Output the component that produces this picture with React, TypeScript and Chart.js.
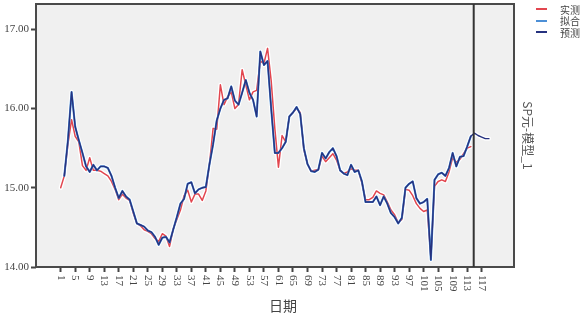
import React, { useEffect, useRef } from 'react';
import { Chart, registerables } from 'chart.js';

Chart.register(...registerables);

// 实测 (actual), days 1..114
const actual: number[] = [
  15.00, 15.15, 15.55, 15.86, 15.65, 15.58, 15.28, 15.22, 15.38, 15.22,
  15.22, 15.21, 15.18, 15.15, 15.08, 14.98, 14.85, 14.92, 14.87, 14.84,
  14.68, 14.55, 14.52, 14.47, 14.45, 14.42, 14.36, 14.32, 14.42, 14.39,
  14.26, 14.48, 14.60, 14.72, 14.90, 14.97, 14.82, 14.92, 14.92, 14.84,
  14.96, 15.30, 15.75, 15.74, 16.30, 16.05, 16.15, 16.21, 16.00, 16.05,
  16.49, 16.30, 16.11, 16.21, 16.23, 16.60, 16.57, 16.76, 16.35, 15.75,
  15.26, 15.66, 15.58, 15.90, 15.95, 16.00, 15.95, 15.48, 15.30, 15.21,
  15.22, 15.23, 15.40, 15.33, 15.38, 15.43, 15.35, 15.22, 15.18, 15.20,
  15.24, 15.22, 15.22, 15.06, 14.85, 14.85, 14.88, 14.96, 14.93, 14.91,
  14.82, 14.72, 14.66, 14.56, 14.60, 14.98, 14.97, 14.90, 14.80, 14.74,
  14.70, 14.72, 14.12, 15.02, 15.08, 15.10, 15.08, 15.20, 15.38, 15.32,
  15.36, 15.43, 15.50, 15.52,
];

// 拟合 (fitted), days 1..114
const fitted: (number | null)[] = [
  null, 15.15, 15.60, 16.21, 15.77, 15.60, 15.44, 15.27, 15.20, 15.29,
  15.22, 15.27, 15.27, 15.25, 15.15, 15.00, 14.87, 14.96, 14.89, 14.85,
  14.70, 14.55, 14.53, 14.51, 14.46, 14.44, 14.38, 14.28, 14.37, 14.38,
  14.31, 14.47, 14.63, 14.80, 14.86, 15.05, 15.07, 14.93, 14.98, 15.00,
  15.01, 15.30, 15.55, 15.85, 16.00, 16.11, 16.13, 16.28, 16.10, 16.05,
  16.20, 16.36, 16.20, 16.11, 15.90, 16.72, 16.55, 16.60, 16.00, 15.44,
  15.44, 15.50, 15.58, 15.90, 15.95, 16.02, 15.93, 15.50, 15.30, 15.21,
  15.20, 15.23, 15.44, 15.37, 15.45, 15.50, 15.40, 15.22, 15.18, 15.16,
  15.29, 15.20, 15.22, 15.08, 14.82, 14.82, 14.82, 14.89, 14.78, 14.89,
  14.80, 14.68, 14.63, 14.55, 14.62, 15.00, 15.05, 15.08, 14.87, 14.80,
  14.82, 14.86, 14.09, 15.10, 15.17, 15.19, 15.15, 15.25, 15.44, 15.27,
  15.39, 15.40, 15.52, 15.65,
];

// 预测 (forecast) beyond the sample, days 115..119
const forecastFuture: number[] = [15.69, 15.66, 15.64, 15.62, 15.62];

const xTickLabels: number[] = [1, 5, 9, 13, 17, 21, 25, 29, 33, 37, 41, 45, 49, 53, 57, 61, 65, 69, 73, 77, 81, 85, 89, 93, 97, 101, 105, 109, 113, 117];
const yTickValues: number[] = [14, 15, 16, 17];
const forecastOriginDay = 114.8;

const legendItems = [
  { label: '实测', color: '#e2464f' },
  { label: '拟合', color: '#4c8fd6' },
  { label: '预测', color: '#26327f' },
];

export default function App() {
  const ref = useRef<HTMLCanvasElement>(null);

  useEffect(() => {
    const canvas = ref.current;
    if (!canvas) return;

    const toPts = (arr: (number | null)[], startDay: number) =>
      arr.map((v, i) => ({ x: startDay + i, y: v }));

    const actualPts = toPts(actual, 1);
    const fittedPts = toPts(fitted, 1);
    const forecastPts = toPts([...fitted, ...forecastFuture], 1);

    const bgPlugin = {
      id: 'bg',
      beforeDraw(chart: any) {
        const { ctx, chartArea } = chart;
        ctx.save();
        ctx.fillStyle = '#f0f0f0';
        ctx.fillRect(chartArea.left, chartArea.top, chartArea.right - chartArea.left, chartArea.bottom - chartArea.top);
        ctx.restore();
      },
    };

    const framePlugin = {
      id: 'frame',
      afterDraw(chart: any) {
        const { ctx, chartArea, scales } = chart;
        const x = scales.x;
        ctx.save();
        ctx.strokeStyle = '#4a4a4a';
        ctx.lineWidth = 2;
        ctx.strokeRect(chartArea.left, chartArea.top, chartArea.right - chartArea.left, chartArea.bottom - chartArea.top);
        const vx = x.getPixelForValue(forecastOriginDay);
        ctx.strokeStyle = '#333333';
        ctx.beginPath();
        ctx.moveTo(vx, chartArea.top);
        ctx.lineTo(vx, chartArea.bottom);
        ctx.stroke();

        ctx.font = '11px "Liberation Serif"';
        ctx.fillStyle = '#444444';
        ctx.textAlign = 'left';
        ctx.textBaseline = 'middle';
        xTickLabels.forEach((v) => {
          const px = x.getPixelForValue(v);
          ctx.save();
          ctx.translate(px, chartArea.bottom + 8);
          ctx.rotate(Math.PI / 2);
          ctx.fillText(String(v), 0, 0);
          ctx.restore();
        });
        ctx.restore();
      },
    };

    const lineBase = {
      pointRadius: 0,
      tension: 0,
      borderJoinStyle: 'round',
      borderCapStyle: 'round',
    };

    const chart = new Chart(canvas, {
      type: 'line',
      data: {
        datasets: [
          { ...lineBase, label: '预测', data: forecastPts, borderColor: '#26327f', borderWidth: 1.4, order: 0 },
          { ...lineBase, label: '拟合', data: fittedPts, borderColor: '#4c8fd6', borderWidth: 2.1, order: 1 },
          { ...lineBase, label: '实测', data: actualPts, borderColor: '#e2464f', borderWidth: 1.5, order: 2 },
          { ...lineBase, label: 'halo1', data: forecastPts, borderColor: 'rgba(255,255,255,0.95)', borderWidth: 4.2, order: 3 },
          { ...lineBase, label: 'halo2', data: actualPts, borderColor: 'rgba(255,255,255,0.95)', borderWidth: 4.2, order: 4 },
        ],
      },
      options: {
        animation: false,
        responsive: false,
        maintainAspectRatio: false,
        layout: { padding: { top: 4, right: 48, left: 0, bottom: 0 } },
        plugins: {
          legend: { display: false },
          tooltip: { enabled: false },
        },
        scales: {
          x: {
            type: 'linear',
            min: -5.8,
            max: 125.9,
            afterBuildTicks: (scale: any) => {
              scale.ticks = xTickLabels.map((v) => ({ value: v }));
            },
            afterFit: (scale: any) => {
              scale.height = 47;
              scale.paddingLeft = 0;
              scale.paddingRight = 0;
            },
            ticks: { display: false },
            grid: {
              display: true,
              drawOnChartArea: false,
              drawTicks: true,
              tickLength: 5,
              tickColor: '#444444',
              tickWidth: 2,
            },
            border: { display: false },
          },
          y: {
            type: 'linear',
            min: 14,
            max: 17.32,
            afterBuildTicks: (scale: any) => {
              scale.ticks = yTickValues.map((v) => ({ value: v }));
            },
            afterFit: (scale: any) => {
              scale.width = 36;
              scale.paddingTop = 0;
              scale.paddingBottom = 0;
            },
            ticks: {
              padding: 2,
              color: '#444444',
              font: { family: '"Liberation Serif"', size: 11 },
              callback: (v: any) => Number(v).toFixed(2),
            },
            grid: {
              display: true,
              drawOnChartArea: false,
              drawTicks: true,
              tickLength: 5,
              tickColor: '#444444',
              tickWidth: 2,
            },
            border: { display: false },
          },
          y2: {
            type: 'linear',
            position: 'right',
            min: 0,
            max: 1,
            afterFit: (scale: any) => {
              scale.width = 21;
              scale.paddingTop = 0;
              scale.paddingBottom = 0;
            },
            ticks: { display: false },
            grid: { display: false },
            border: { display: false },
            title: {
              display: true,
              text: 'SP元-模型_1',
              color: '#555555',
              padding: 0,
              font: { family: '"Noto Sans CJK SC"', size: 12 },
            },
          },
        },
      },
      plugins: [bgPlugin, framePlugin],
    } as any);

    return () => chart.destroy();
  }, []);

  return (
    <div style={{ position: 'absolute', left: 0, top: 0, width: 583, height: 314, background: '#ffffff' }}>
      <canvas ref={ref} width={583} height={314} style={{ display: 'block' }} />
      {legendItems.map((it, i) => (
        <div key={it.label} style={{ position: 'absolute', left: 536, top: 3.5 + i * 11.5, height: 11.5, display: 'flex', alignItems: 'center' }}>
          <div style={{ width: 11, height: 2, background: it.color }} />
          <span style={{ marginLeft: 13, fontFamily: '"Noto Sans CJK SC"', fontSize: 10, lineHeight: '11.5px', color: '#444444' }}>{it.label}</span>
        </div>
      ))}
      <div style={{ position: 'absolute', left: 269, top: 296, fontFamily: '"Noto Sans CJK SC"', fontSize: 14, lineHeight: '18px', color: '#444444' }}>日期</div>
    </div>
  );
}
